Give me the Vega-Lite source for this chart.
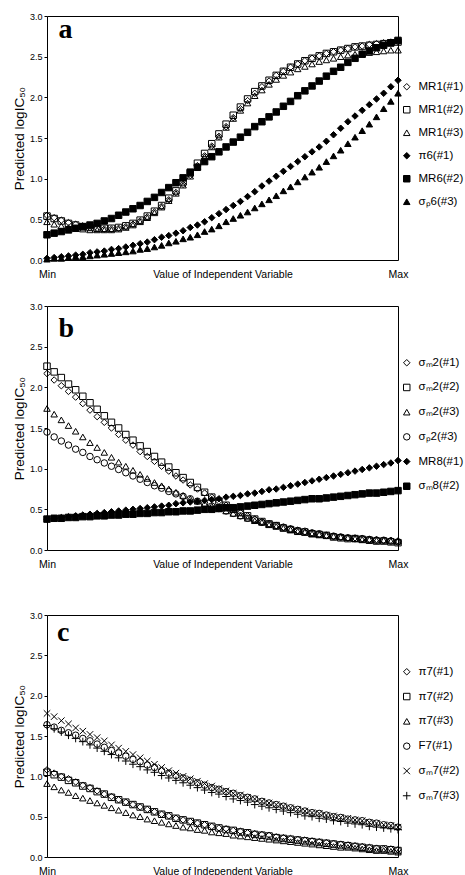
{
"$schema": "https://vega.github.io/schema/vega-lite/v6.json",
"padding": {"left": 11, "top": 11, "right": 0, "bottom": 0},
"config": {
"font": "Liberation Sans",
"view": {"stroke": "black", "strokeWidth": 1},
"axis": {"labelColor": "black", "titleColor": "black", "labelFont": "Liberation Sans", "titleFont": "Liberation Sans", "grid": false, "domain": false, "tickColor": "black"},
"legend": {"title": null, "orient": "none", "legendX": 354, "padding": 0, "labelFontSize": 11.5, "labelFont": "Liberation Sans", "labelColor": "black", "symbolStrokeColor": "black", "symbolStrokeWidth": 1, "symbolSize": 42, "labelOffset": 6, "labelLimit": 60}
},
"datasets": {
"a": [
{"s":"MR1(#1)","x":0,"y":0.55},{"s":"MR1(#1)","x":1,"y":0.52},{"s":"MR1(#1)","x":2,"y":0.49},{"s":"MR1(#1)","x":3,"y":0.46},{"s":"MR1(#1)","x":4,"y":0.44},{"s":"MR1(#1)","x":5,"y":0.42},{"s":"MR1(#1)","x":6,"y":0.40},{"s":"MR1(#1)","x":7,"y":0.39},{"s":"MR1(#1)","x":8,"y":0.38},{"s":"MR1(#1)","x":9,"y":0.38},
{"s":"MR1(#1)","x":10,"y":0.39},{"s":"MR1(#1)","x":11,"y":0.41},{"s":"MR1(#1)","x":12,"y":0.44},{"s":"MR1(#1)","x":13,"y":0.48},{"s":"MR1(#1)","x":14,"y":0.53},{"s":"MR1(#1)","x":15,"y":0.59},{"s":"MR1(#1)","x":16,"y":0.66},{"s":"MR1(#1)","x":17,"y":0.74},{"s":"MR1(#1)","x":18,"y":0.83},{"s":"MR1(#1)","x":19,"y":0.93},
{"s":"MR1(#1)","x":20,"y":1.04},{"s":"MR1(#1)","x":21,"y":1.16},{"s":"MR1(#1)","x":22,"y":1.28},{"s":"MR1(#1)","x":23,"y":1.40},{"s":"MR1(#1)","x":24,"y":1.52},{"s":"MR1(#1)","x":25,"y":1.64},{"s":"MR1(#1)","x":26,"y":1.75},{"s":"MR1(#1)","x":27,"y":1.86},{"s":"MR1(#1)","x":28,"y":1.96},{"s":"MR1(#1)","x":29,"y":2.05},
{"s":"MR1(#1)","x":30,"y":2.13},{"s":"MR1(#1)","x":31,"y":2.20},{"s":"MR1(#1)","x":32,"y":2.27},{"s":"MR1(#1)","x":33,"y":2.32},{"s":"MR1(#1)","x":34,"y":2.37},{"s":"MR1(#1)","x":35,"y":2.41},{"s":"MR1(#1)","x":36,"y":2.45},{"s":"MR1(#1)","x":37,"y":2.48},{"s":"MR1(#1)","x":38,"y":2.51},{"s":"MR1(#1)","x":39,"y":2.54},
{"s":"MR1(#1)","x":40,"y":2.56},{"s":"MR1(#1)","x":41,"y":2.58},{"s":"MR1(#1)","x":42,"y":2.60},{"s":"MR1(#1)","x":43,"y":2.62},{"s":"MR1(#1)","x":44,"y":2.63},{"s":"MR1(#1)","x":45,"y":2.65},{"s":"MR1(#1)","x":46,"y":2.66},{"s":"MR1(#1)","x":47,"y":2.67},{"s":"MR1(#1)","x":48,"y":2.68},{"s":"MR1(#1)","x":49,"y":2.68},
{"s":"MR1(#2)","x":0,"y":0.54},{"s":"MR1(#2)","x":1,"y":0.51},{"s":"MR1(#2)","x":2,"y":0.48},{"s":"MR1(#2)","x":3,"y":0.45},{"s":"MR1(#2)","x":4,"y":0.43},{"s":"MR1(#2)","x":5,"y":0.41},{"s":"MR1(#2)","x":6,"y":0.40},{"s":"MR1(#2)","x":7,"y":0.39},{"s":"MR1(#2)","x":8,"y":0.39},{"s":"MR1(#2)","x":9,"y":0.39},
{"s":"MR1(#2)","x":10,"y":0.40},{"s":"MR1(#2)","x":11,"y":0.42},{"s":"MR1(#2)","x":12,"y":0.45},{"s":"MR1(#2)","x":13,"y":0.49},{"s":"MR1(#2)","x":14,"y":0.54},{"s":"MR1(#2)","x":15,"y":0.60},{"s":"MR1(#2)","x":16,"y":0.67},{"s":"MR1(#2)","x":17,"y":0.76},{"s":"MR1(#2)","x":18,"y":0.85},{"s":"MR1(#2)","x":19,"y":0.96},
{"s":"MR1(#2)","x":20,"y":1.07},{"s":"MR1(#2)","x":21,"y":1.19},{"s":"MR1(#2)","x":22,"y":1.31},{"s":"MR1(#2)","x":23,"y":1.43},{"s":"MR1(#2)","x":24,"y":1.55},{"s":"MR1(#2)","x":25,"y":1.67},{"s":"MR1(#2)","x":26,"y":1.78},{"s":"MR1(#2)","x":27,"y":1.88},{"s":"MR1(#2)","x":28,"y":1.98},{"s":"MR1(#2)","x":29,"y":2.07},
{"s":"MR1(#2)","x":30,"y":2.14},{"s":"MR1(#2)","x":31,"y":2.21},{"s":"MR1(#2)","x":32,"y":2.27},{"s":"MR1(#2)","x":33,"y":2.32},{"s":"MR1(#2)","x":34,"y":2.37},{"s":"MR1(#2)","x":35,"y":2.41},{"s":"MR1(#2)","x":36,"y":2.45},{"s":"MR1(#2)","x":37,"y":2.48},{"s":"MR1(#2)","x":38,"y":2.51},{"s":"MR1(#2)","x":39,"y":2.54},
{"s":"MR1(#2)","x":40,"y":2.56},{"s":"MR1(#2)","x":41,"y":2.58},{"s":"MR1(#2)","x":42,"y":2.60},{"s":"MR1(#2)","x":43,"y":2.62},{"s":"MR1(#2)","x":44,"y":2.63},{"s":"MR1(#2)","x":45,"y":2.64},{"s":"MR1(#2)","x":46,"y":2.65},{"s":"MR1(#2)","x":47,"y":2.66},{"s":"MR1(#2)","x":48,"y":2.67},{"s":"MR1(#2)","x":49,"y":2.68},
{"s":"MR1(#3)","x":0,"y":0.47},{"s":"MR1(#3)","x":1,"y":0.44},{"s":"MR1(#3)","x":2,"y":0.42},{"s":"MR1(#3)","x":3,"y":0.40},{"s":"MR1(#3)","x":4,"y":0.39},{"s":"MR1(#3)","x":5,"y":0.38},{"s":"MR1(#3)","x":6,"y":0.37},{"s":"MR1(#3)","x":7,"y":0.37},{"s":"MR1(#3)","x":8,"y":0.37},{"s":"MR1(#3)","x":9,"y":0.37},
{"s":"MR1(#3)","x":10,"y":0.38},{"s":"MR1(#3)","x":11,"y":0.40},{"s":"MR1(#3)","x":12,"y":0.43},{"s":"MR1(#3)","x":13,"y":0.47},{"s":"MR1(#3)","x":14,"y":0.52},{"s":"MR1(#3)","x":15,"y":0.58},{"s":"MR1(#3)","x":16,"y":0.65},{"s":"MR1(#3)","x":17,"y":0.73},{"s":"MR1(#3)","x":18,"y":0.82},{"s":"MR1(#3)","x":19,"y":0.92},
{"s":"MR1(#3)","x":20,"y":1.03},{"s":"MR1(#3)","x":21,"y":1.15},{"s":"MR1(#3)","x":22,"y":1.27},{"s":"MR1(#3)","x":23,"y":1.39},{"s":"MR1(#3)","x":24,"y":1.51},{"s":"MR1(#3)","x":25,"y":1.63},{"s":"MR1(#3)","x":26,"y":1.74},{"s":"MR1(#3)","x":27,"y":1.84},{"s":"MR1(#3)","x":28,"y":1.93},{"s":"MR1(#3)","x":29,"y":2.02},
{"s":"MR1(#3)","x":30,"y":2.09},{"s":"MR1(#3)","x":31,"y":2.16},{"s":"MR1(#3)","x":32,"y":2.22},{"s":"MR1(#3)","x":33,"y":2.27},{"s":"MR1(#3)","x":34,"y":2.31},{"s":"MR1(#3)","x":35,"y":2.35},{"s":"MR1(#3)","x":36,"y":2.38},{"s":"MR1(#3)","x":37,"y":2.41},{"s":"MR1(#3)","x":38,"y":2.44},{"s":"MR1(#3)","x":39,"y":2.46},
{"s":"MR1(#3)","x":40,"y":2.48},{"s":"MR1(#3)","x":41,"y":2.50},{"s":"MR1(#3)","x":42,"y":2.52},{"s":"MR1(#3)","x":43,"y":2.53},{"s":"MR1(#3)","x":44,"y":2.54},{"s":"MR1(#3)","x":45,"y":2.55},{"s":"MR1(#3)","x":46,"y":2.56},{"s":"MR1(#3)","x":47,"y":2.57},{"s":"MR1(#3)","x":48,"y":2.58},{"s":"MR1(#3)","x":49,"y":2.58},
{"s":"π6(#1)","x":0,"y":0.02},{"s":"π6(#1)","x":1,"y":0.03},{"s":"π6(#1)","x":2,"y":0.04},{"s":"π6(#1)","x":3,"y":0.05},{"s":"π6(#1)","x":4,"y":0.06},{"s":"π6(#1)","x":5,"y":0.07},{"s":"π6(#1)","x":6,"y":0.09},{"s":"π6(#1)","x":7,"y":0.10},{"s":"π6(#1)","x":8,"y":0.11},{"s":"π6(#1)","x":9,"y":0.13},
{"s":"π6(#1)","x":10,"y":0.14},{"s":"π6(#1)","x":11,"y":0.16},{"s":"π6(#1)","x":12,"y":0.18},{"s":"π6(#1)","x":13,"y":0.20},{"s":"π6(#1)","x":14,"y":0.22},{"s":"π6(#1)","x":15,"y":0.25},{"s":"π6(#1)","x":16,"y":0.28},{"s":"π6(#1)","x":17,"y":0.30},{"s":"π6(#1)","x":18,"y":0.33},{"s":"π6(#1)","x":19,"y":0.36},
{"s":"π6(#1)","x":20,"y":0.40},{"s":"π6(#1)","x":21,"y":0.43},{"s":"π6(#1)","x":22,"y":0.47},{"s":"π6(#1)","x":23,"y":0.52},{"s":"π6(#1)","x":24,"y":0.57},{"s":"π6(#1)","x":25,"y":0.62},{"s":"π6(#1)","x":26,"y":0.67},{"s":"π6(#1)","x":27,"y":0.72},{"s":"π6(#1)","x":28,"y":0.78},{"s":"π6(#1)","x":29,"y":0.84},
{"s":"π6(#1)","x":30,"y":0.91},{"s":"π6(#1)","x":31,"y":0.97},{"s":"π6(#1)","x":32,"y":1.03},{"s":"π6(#1)","x":33,"y":1.09},{"s":"π6(#1)","x":34,"y":1.15},{"s":"π6(#1)","x":35,"y":1.21},{"s":"π6(#1)","x":36,"y":1.27},{"s":"π6(#1)","x":37,"y":1.33},{"s":"π6(#1)","x":38,"y":1.39},{"s":"π6(#1)","x":39,"y":1.46},
{"s":"π6(#1)","x":40,"y":1.54},{"s":"π6(#1)","x":41,"y":1.62},{"s":"π6(#1)","x":42,"y":1.70},{"s":"π6(#1)","x":43,"y":1.77},{"s":"π6(#1)","x":44,"y":1.84},{"s":"π6(#1)","x":45,"y":1.91},{"s":"π6(#1)","x":46,"y":1.98},{"s":"π6(#1)","x":47,"y":2.05},{"s":"π6(#1)","x":48,"y":2.13},{"s":"π6(#1)","x":49,"y":2.21},
{"s":"MR6(#2)","x":0,"y":0.31},{"s":"MR6(#2)","x":1,"y":0.33},{"s":"MR6(#2)","x":2,"y":0.35},{"s":"MR6(#2)","x":3,"y":0.37},{"s":"MR6(#2)","x":4,"y":0.39},{"s":"MR6(#2)","x":5,"y":0.41},{"s":"MR6(#2)","x":6,"y":0.43},{"s":"MR6(#2)","x":7,"y":0.45},{"s":"MR6(#2)","x":8,"y":0.48},{"s":"MR6(#2)","x":9,"y":0.51},
{"s":"MR6(#2)","x":10,"y":0.55},{"s":"MR6(#2)","x":11,"y":0.59},{"s":"MR6(#2)","x":12,"y":0.63},{"s":"MR6(#2)","x":13,"y":0.67},{"s":"MR6(#2)","x":14,"y":0.72},{"s":"MR6(#2)","x":15,"y":0.77},{"s":"MR6(#2)","x":16,"y":0.83},{"s":"MR6(#2)","x":17,"y":0.89},{"s":"MR6(#2)","x":18,"y":0.95},{"s":"MR6(#2)","x":19,"y":1.01},
{"s":"MR6(#2)","x":20,"y":1.08},{"s":"MR6(#2)","x":21,"y":1.14},{"s":"MR6(#2)","x":22,"y":1.21},{"s":"MR6(#2)","x":23,"y":1.27},{"s":"MR6(#2)","x":24,"y":1.33},{"s":"MR6(#2)","x":25,"y":1.39},{"s":"MR6(#2)","x":26,"y":1.45},{"s":"MR6(#2)","x":27,"y":1.51},{"s":"MR6(#2)","x":28,"y":1.57},{"s":"MR6(#2)","x":29,"y":1.64},
{"s":"MR6(#2)","x":30,"y":1.70},{"s":"MR6(#2)","x":31,"y":1.76},{"s":"MR6(#2)","x":32,"y":1.82},{"s":"MR6(#2)","x":33,"y":1.89},{"s":"MR6(#2)","x":34,"y":1.95},{"s":"MR6(#2)","x":35,"y":2.02},{"s":"MR6(#2)","x":36,"y":2.08},{"s":"MR6(#2)","x":37,"y":2.14},{"s":"MR6(#2)","x":38,"y":2.20},{"s":"MR6(#2)","x":39,"y":2.26},
{"s":"MR6(#2)","x":40,"y":2.32},{"s":"MR6(#2)","x":41,"y":2.37},{"s":"MR6(#2)","x":42,"y":2.43},{"s":"MR6(#2)","x":43,"y":2.48},{"s":"MR6(#2)","x":44,"y":2.53},{"s":"MR6(#2)","x":45,"y":2.57},{"s":"MR6(#2)","x":46,"y":2.61},{"s":"MR6(#2)","x":47,"y":2.64},{"s":"MR6(#2)","x":48,"y":2.67},{"s":"MR6(#2)","x":49,"y":2.70},
{"s":"σₚ6(#3)","x":0,"y":0.01},{"s":"σₚ6(#3)","x":1,"y":0.02},{"s":"σₚ6(#3)","x":2,"y":0.02},{"s":"σₚ6(#3)","x":3,"y":0.03},{"s":"σₚ6(#3)","x":4,"y":0.04},{"s":"σₚ6(#3)","x":5,"y":0.04},{"s":"σₚ6(#3)","x":6,"y":0.05},{"s":"σₚ6(#3)","x":7,"y":0.06},{"s":"σₚ6(#3)","x":8,"y":0.07},{"s":"σₚ6(#3)","x":9,"y":0.08},
{"s":"σₚ6(#3)","x":10,"y":0.09},{"s":"σₚ6(#3)","x":11,"y":0.10},{"s":"σₚ6(#3)","x":12,"y":0.11},{"s":"σₚ6(#3)","x":13,"y":0.13},{"s":"σₚ6(#3)","x":14,"y":0.14},{"s":"σₚ6(#3)","x":15,"y":0.16},{"s":"σₚ6(#3)","x":16,"y":0.18},{"s":"σₚ6(#3)","x":17,"y":0.21},{"s":"σₚ6(#3)","x":18,"y":0.23},{"s":"σₚ6(#3)","x":19,"y":0.26},
{"s":"σₚ6(#3)","x":20,"y":0.28},{"s":"σₚ6(#3)","x":21,"y":0.31},{"s":"σₚ6(#3)","x":22,"y":0.35},{"s":"σₚ6(#3)","x":23,"y":0.38},{"s":"σₚ6(#3)","x":24,"y":0.42},{"s":"σₚ6(#3)","x":25,"y":0.47},{"s":"σₚ6(#3)","x":26,"y":0.51},{"s":"σₚ6(#3)","x":27,"y":0.55},{"s":"σₚ6(#3)","x":28,"y":0.59},{"s":"σₚ6(#3)","x":29,"y":0.64},
{"s":"σₚ6(#3)","x":30,"y":0.69},{"s":"σₚ6(#3)","x":31,"y":0.74},{"s":"σₚ6(#3)","x":32,"y":0.79},{"s":"σₚ6(#3)","x":33,"y":0.85},{"s":"σₚ6(#3)","x":34,"y":0.90},{"s":"σₚ6(#3)","x":35,"y":0.96},{"s":"σₚ6(#3)","x":36,"y":1.02},{"s":"σₚ6(#3)","x":37,"y":1.08},{"s":"σₚ6(#3)","x":38,"y":1.14},{"s":"σₚ6(#3)","x":39,"y":1.21},
{"s":"σₚ6(#3)","x":40,"y":1.28},{"s":"σₚ6(#3)","x":41,"y":1.35},{"s":"σₚ6(#3)","x":42,"y":1.43},{"s":"σₚ6(#3)","x":43,"y":1.51},{"s":"σₚ6(#3)","x":44,"y":1.59},{"s":"σₚ6(#3)","x":45,"y":1.67},{"s":"σₚ6(#3)","x":46,"y":1.76},{"s":"σₚ6(#3)","x":47,"y":1.86},{"s":"σₚ6(#3)","x":48,"y":1.95},{"s":"σₚ6(#3)","x":49,"y":2.05}
],
"b": [
{"s":"σₘ2(#1)","x":0,"y":2.17},{"s":"σₘ2(#1)","x":1,"y":2.09},{"s":"σₘ2(#1)","x":2,"y":2.02},{"s":"σₘ2(#1)","x":3,"y":1.95},{"s":"σₘ2(#1)","x":4,"y":1.88},{"s":"σₘ2(#1)","x":5,"y":1.80},{"s":"σₘ2(#1)","x":6,"y":1.72},{"s":"σₘ2(#1)","x":7,"y":1.64},{"s":"σₘ2(#1)","x":8,"y":1.57},{"s":"σₘ2(#1)","x":9,"y":1.50},
{"s":"σₘ2(#1)","x":10,"y":1.42},{"s":"σₘ2(#1)","x":11,"y":1.35},{"s":"σₘ2(#1)","x":12,"y":1.29},{"s":"σₘ2(#1)","x":13,"y":1.21},{"s":"σₘ2(#1)","x":14,"y":1.15},{"s":"σₘ2(#1)","x":15,"y":1.09},{"s":"σₘ2(#1)","x":16,"y":1.03},{"s":"σₘ2(#1)","x":17,"y":0.97},{"s":"σₘ2(#1)","x":18,"y":0.91},{"s":"σₘ2(#1)","x":19,"y":0.86},
{"s":"σₘ2(#1)","x":20,"y":0.80},{"s":"σₘ2(#1)","x":21,"y":0.75},{"s":"σₘ2(#1)","x":22,"y":0.70},{"s":"σₘ2(#1)","x":23,"y":0.65},{"s":"σₘ2(#1)","x":24,"y":0.60},{"s":"σₘ2(#1)","x":25,"y":0.55},{"s":"σₘ2(#1)","x":26,"y":0.50},{"s":"σₘ2(#1)","x":27,"y":0.46},{"s":"σₘ2(#1)","x":28,"y":0.42},{"s":"σₘ2(#1)","x":29,"y":0.38},
{"s":"σₘ2(#1)","x":30,"y":0.35},{"s":"σₘ2(#1)","x":31,"y":0.32},{"s":"σₘ2(#1)","x":32,"y":0.30},{"s":"σₘ2(#1)","x":33,"y":0.28},{"s":"σₘ2(#1)","x":34,"y":0.26},{"s":"σₘ2(#1)","x":35,"y":0.24},{"s":"σₘ2(#1)","x":36,"y":0.22},{"s":"σₘ2(#1)","x":37,"y":0.21},{"s":"σₘ2(#1)","x":38,"y":0.19},{"s":"σₘ2(#1)","x":39,"y":0.18},
{"s":"σₘ2(#1)","x":40,"y":0.17},{"s":"σₘ2(#1)","x":41,"y":0.16},{"s":"σₘ2(#1)","x":42,"y":0.15},{"s":"σₘ2(#1)","x":43,"y":0.15},{"s":"σₘ2(#1)","x":44,"y":0.14},{"s":"σₘ2(#1)","x":45,"y":0.13},{"s":"σₘ2(#1)","x":46,"y":0.13},{"s":"σₘ2(#1)","x":47,"y":0.12},{"s":"σₘ2(#1)","x":48,"y":0.12},{"s":"σₘ2(#1)","x":49,"y":0.11},
{"s":"σₘ2(#2)","x":0,"y":2.26},{"s":"σₘ2(#2)","x":1,"y":2.19},{"s":"σₘ2(#2)","x":2,"y":2.12},{"s":"σₘ2(#2)","x":3,"y":2.04},{"s":"σₘ2(#2)","x":4,"y":1.97},{"s":"σₘ2(#2)","x":5,"y":1.89},{"s":"σₘ2(#2)","x":6,"y":1.81},{"s":"σₘ2(#2)","x":7,"y":1.73},{"s":"σₘ2(#2)","x":8,"y":1.65},{"s":"σₘ2(#2)","x":9,"y":1.57},
{"s":"σₘ2(#2)","x":10,"y":1.50},{"s":"σₘ2(#2)","x":11,"y":1.42},{"s":"σₘ2(#2)","x":12,"y":1.35},{"s":"σₘ2(#2)","x":13,"y":1.28},{"s":"σₘ2(#2)","x":14,"y":1.21},{"s":"σₘ2(#2)","x":15,"y":1.15},{"s":"σₘ2(#2)","x":16,"y":1.08},{"s":"σₘ2(#2)","x":17,"y":1.02},{"s":"σₘ2(#2)","x":18,"y":0.95},{"s":"σₘ2(#2)","x":19,"y":0.89},
{"s":"σₘ2(#2)","x":20,"y":0.83},{"s":"σₘ2(#2)","x":21,"y":0.77},{"s":"σₘ2(#2)","x":22,"y":0.71},{"s":"σₘ2(#2)","x":23,"y":0.65},{"s":"σₘ2(#2)","x":24,"y":0.60},{"s":"σₘ2(#2)","x":25,"y":0.55},{"s":"σₘ2(#2)","x":26,"y":0.50},{"s":"σₘ2(#2)","x":27,"y":0.46},{"s":"σₘ2(#2)","x":28,"y":0.42},{"s":"σₘ2(#2)","x":29,"y":0.38},
{"s":"σₘ2(#2)","x":30,"y":0.35},{"s":"σₘ2(#2)","x":31,"y":0.32},{"s":"σₘ2(#2)","x":32,"y":0.30},{"s":"σₘ2(#2)","x":33,"y":0.27},{"s":"σₘ2(#2)","x":34,"y":0.25},{"s":"σₘ2(#2)","x":35,"y":0.23},{"s":"σₘ2(#2)","x":36,"y":0.22},{"s":"σₘ2(#2)","x":37,"y":0.20},{"s":"σₘ2(#2)","x":38,"y":0.19},{"s":"σₘ2(#2)","x":39,"y":0.18},
{"s":"σₘ2(#2)","x":40,"y":0.16},{"s":"σₘ2(#2)","x":41,"y":0.15},{"s":"σₘ2(#2)","x":42,"y":0.14},{"s":"σₘ2(#2)","x":43,"y":0.14},{"s":"σₘ2(#2)","x":44,"y":0.13},{"s":"σₘ2(#2)","x":45,"y":0.12},{"s":"σₘ2(#2)","x":46,"y":0.11},{"s":"σₘ2(#2)","x":47,"y":0.11},{"s":"σₘ2(#2)","x":48,"y":0.10},{"s":"σₘ2(#2)","x":49,"y":0.09},
{"s":"σₘ2(#3)","x":0,"y":1.74},{"s":"σₘ2(#3)","x":1,"y":1.67},{"s":"σₘ2(#3)","x":2,"y":1.60},{"s":"σₘ2(#3)","x":3,"y":1.53},{"s":"σₘ2(#3)","x":4,"y":1.46},{"s":"σₘ2(#3)","x":5,"y":1.39},{"s":"σₘ2(#3)","x":6,"y":1.32},{"s":"σₘ2(#3)","x":7,"y":1.26},{"s":"σₘ2(#3)","x":8,"y":1.20},{"s":"σₘ2(#3)","x":9,"y":1.14},
{"s":"σₘ2(#3)","x":10,"y":1.08},{"s":"σₘ2(#3)","x":11,"y":1.03},{"s":"σₘ2(#3)","x":12,"y":0.98},{"s":"σₘ2(#3)","x":13,"y":0.93},{"s":"σₘ2(#3)","x":14,"y":0.88},{"s":"σₘ2(#3)","x":15,"y":0.83},{"s":"σₘ2(#3)","x":16,"y":0.79},{"s":"σₘ2(#3)","x":17,"y":0.75},{"s":"σₘ2(#3)","x":18,"y":0.71},{"s":"σₘ2(#3)","x":19,"y":0.67},
{"s":"σₘ2(#3)","x":20,"y":0.63},{"s":"σₘ2(#3)","x":21,"y":0.60},{"s":"σₘ2(#3)","x":22,"y":0.57},{"s":"σₘ2(#3)","x":23,"y":0.54},{"s":"σₘ2(#3)","x":24,"y":0.51},{"s":"σₘ2(#3)","x":25,"y":0.48},{"s":"σₘ2(#3)","x":26,"y":0.45},{"s":"σₘ2(#3)","x":27,"y":0.42},{"s":"σₘ2(#3)","x":28,"y":0.39},{"s":"σₘ2(#3)","x":29,"y":0.36},
{"s":"σₘ2(#3)","x":30,"y":0.34},{"s":"σₘ2(#3)","x":31,"y":0.31},{"s":"σₘ2(#3)","x":32,"y":0.29},{"s":"σₘ2(#3)","x":33,"y":0.27},{"s":"σₘ2(#3)","x":34,"y":0.25},{"s":"σₘ2(#3)","x":35,"y":0.23},{"s":"σₘ2(#3)","x":36,"y":0.22},{"s":"σₘ2(#3)","x":37,"y":0.20},{"s":"σₘ2(#3)","x":38,"y":0.19},{"s":"σₘ2(#3)","x":39,"y":0.18},
{"s":"σₘ2(#3)","x":40,"y":0.17},{"s":"σₘ2(#3)","x":41,"y":0.16},{"s":"σₘ2(#3)","x":42,"y":0.15},{"s":"σₘ2(#3)","x":43,"y":0.14},{"s":"σₘ2(#3)","x":44,"y":0.13},{"s":"σₘ2(#3)","x":45,"y":0.13},{"s":"σₘ2(#3)","x":46,"y":0.12},{"s":"σₘ2(#3)","x":47,"y":0.12},{"s":"σₘ2(#3)","x":48,"y":0.11},{"s":"σₘ2(#3)","x":49,"y":0.11},
{"s":"σₚ2(#3)","x":0,"y":1.45},{"s":"σₚ2(#3)","x":1,"y":1.39},{"s":"σₚ2(#3)","x":2,"y":1.34},{"s":"σₚ2(#3)","x":3,"y":1.29},{"s":"σₚ2(#3)","x":4,"y":1.24},{"s":"σₚ2(#3)","x":5,"y":1.20},{"s":"σₚ2(#3)","x":6,"y":1.15},{"s":"σₚ2(#3)","x":7,"y":1.11},{"s":"σₚ2(#3)","x":8,"y":1.07},{"s":"σₚ2(#3)","x":9,"y":1.03},
{"s":"σₚ2(#3)","x":10,"y":0.99},{"s":"σₚ2(#3)","x":11,"y":0.95},{"s":"σₚ2(#3)","x":12,"y":0.91},{"s":"σₚ2(#3)","x":13,"y":0.87},{"s":"σₚ2(#3)","x":14,"y":0.83},{"s":"σₚ2(#3)","x":15,"y":0.79},{"s":"σₚ2(#3)","x":16,"y":0.76},{"s":"σₚ2(#3)","x":17,"y":0.72},{"s":"σₚ2(#3)","x":18,"y":0.69},{"s":"σₚ2(#3)","x":19,"y":0.66},
{"s":"σₚ2(#3)","x":20,"y":0.63},{"s":"σₚ2(#3)","x":21,"y":0.60},{"s":"σₚ2(#3)","x":22,"y":0.57},{"s":"σₚ2(#3)","x":23,"y":0.54},{"s":"σₚ2(#3)","x":24,"y":0.51},{"s":"σₚ2(#3)","x":25,"y":0.48},{"s":"σₚ2(#3)","x":26,"y":0.45},{"s":"σₚ2(#3)","x":27,"y":0.42},{"s":"σₚ2(#3)","x":28,"y":0.39},{"s":"σₚ2(#3)","x":29,"y":0.37},
{"s":"σₚ2(#3)","x":30,"y":0.34},{"s":"σₚ2(#3)","x":31,"y":0.32},{"s":"σₚ2(#3)","x":32,"y":0.30},{"s":"σₚ2(#3)","x":33,"y":0.28},{"s":"σₚ2(#3)","x":34,"y":0.26},{"s":"σₚ2(#3)","x":35,"y":0.24},{"s":"σₚ2(#3)","x":36,"y":0.23},{"s":"σₚ2(#3)","x":37,"y":0.21},{"s":"σₚ2(#3)","x":38,"y":0.20},{"s":"σₚ2(#3)","x":39,"y":0.18},
{"s":"σₚ2(#3)","x":40,"y":0.17},{"s":"σₚ2(#3)","x":41,"y":0.16},{"s":"σₚ2(#3)","x":42,"y":0.15},{"s":"σₚ2(#3)","x":43,"y":0.14},{"s":"σₚ2(#3)","x":44,"y":0.14},{"s":"σₚ2(#3)","x":45,"y":0.13},{"s":"σₚ2(#3)","x":46,"y":0.12},{"s":"σₚ2(#3)","x":47,"y":0.12},{"s":"σₚ2(#3)","x":48,"y":0.11},{"s":"σₚ2(#3)","x":49,"y":0.10},
{"s":"MR8(#1)","x":0,"y":0.38},{"s":"MR8(#1)","x":1,"y":0.39},{"s":"MR8(#1)","x":2,"y":0.40},{"s":"MR8(#1)","x":3,"y":0.41},{"s":"MR8(#1)","x":4,"y":0.42},{"s":"MR8(#1)","x":5,"y":0.43},{"s":"MR8(#1)","x":6,"y":0.44},{"s":"MR8(#1)","x":7,"y":0.45},{"s":"MR8(#1)","x":8,"y":0.46},{"s":"MR8(#1)","x":9,"y":0.47},
{"s":"MR8(#1)","x":10,"y":0.48},{"s":"MR8(#1)","x":11,"y":0.49},{"s":"MR8(#1)","x":12,"y":0.50},{"s":"MR8(#1)","x":13,"y":0.51},{"s":"MR8(#1)","x":14,"y":0.52},{"s":"MR8(#1)","x":15,"y":0.53},{"s":"MR8(#1)","x":16,"y":0.54},{"s":"MR8(#1)","x":17,"y":0.55},{"s":"MR8(#1)","x":18,"y":0.57},{"s":"MR8(#1)","x":19,"y":0.58},
{"s":"MR8(#1)","x":20,"y":0.59},{"s":"MR8(#1)","x":21,"y":0.60},{"s":"MR8(#1)","x":22,"y":0.61},{"s":"MR8(#1)","x":23,"y":0.62},{"s":"MR8(#1)","x":24,"y":0.63},{"s":"MR8(#1)","x":25,"y":0.65},{"s":"MR8(#1)","x":26,"y":0.66},{"s":"MR8(#1)","x":27,"y":0.67},{"s":"MR8(#1)","x":28,"y":0.69},{"s":"MR8(#1)","x":29,"y":0.70},
{"s":"MR8(#1)","x":30,"y":0.72},{"s":"MR8(#1)","x":31,"y":0.74},{"s":"MR8(#1)","x":32,"y":0.75},{"s":"MR8(#1)","x":33,"y":0.77},{"s":"MR8(#1)","x":34,"y":0.79},{"s":"MR8(#1)","x":35,"y":0.81},{"s":"MR8(#1)","x":36,"y":0.83},{"s":"MR8(#1)","x":37,"y":0.85},{"s":"MR8(#1)","x":38,"y":0.87},{"s":"MR8(#1)","x":39,"y":0.89},
{"s":"MR8(#1)","x":40,"y":0.91},{"s":"MR8(#1)","x":41,"y":0.93},{"s":"MR8(#1)","x":42,"y":0.95},{"s":"MR8(#1)","x":43,"y":0.97},{"s":"MR8(#1)","x":44,"y":0.99},{"s":"MR8(#1)","x":45,"y":1.01},{"s":"MR8(#1)","x":46,"y":1.03},{"s":"MR8(#1)","x":47,"y":1.05},{"s":"MR8(#1)","x":48,"y":1.07},{"s":"MR8(#1)","x":49,"y":1.10},
{"s":"σₘ8(#2)","x":0,"y":0.38},{"s":"σₘ8(#2)","x":1,"y":0.39},{"s":"σₘ8(#2)","x":2,"y":0.39},{"s":"σₘ8(#2)","x":3,"y":0.40},{"s":"σₘ8(#2)","x":4,"y":0.40},{"s":"σₘ8(#2)","x":5,"y":0.41},{"s":"σₘ8(#2)","x":6,"y":0.41},{"s":"σₘ8(#2)","x":7,"y":0.42},{"s":"σₘ8(#2)","x":8,"y":0.42},{"s":"σₘ8(#2)","x":9,"y":0.43},
{"s":"σₘ8(#2)","x":10,"y":0.43},{"s":"σₘ8(#2)","x":11,"y":0.44},{"s":"σₘ8(#2)","x":12,"y":0.44},{"s":"σₘ8(#2)","x":13,"y":0.45},{"s":"σₘ8(#2)","x":14,"y":0.45},{"s":"σₘ8(#2)","x":15,"y":0.46},{"s":"σₘ8(#2)","x":16,"y":0.46},{"s":"σₘ8(#2)","x":17,"y":0.47},{"s":"σₘ8(#2)","x":18,"y":0.47},{"s":"σₘ8(#2)","x":19,"y":0.48},
{"s":"σₘ8(#2)","x":20,"y":0.48},{"s":"σₘ8(#2)","x":21,"y":0.49},{"s":"σₘ8(#2)","x":22,"y":0.50},{"s":"σₘ8(#2)","x":23,"y":0.50},{"s":"σₘ8(#2)","x":24,"y":0.51},{"s":"σₘ8(#2)","x":25,"y":0.52},{"s":"σₘ8(#2)","x":26,"y":0.52},{"s":"σₘ8(#2)","x":27,"y":0.53},{"s":"σₘ8(#2)","x":28,"y":0.54},{"s":"σₘ8(#2)","x":29,"y":0.55},
{"s":"σₘ8(#2)","x":30,"y":0.56},{"s":"σₘ8(#2)","x":31,"y":0.57},{"s":"σₘ8(#2)","x":32,"y":0.58},{"s":"σₘ8(#2)","x":33,"y":0.59},{"s":"σₘ8(#2)","x":34,"y":0.60},{"s":"σₘ8(#2)","x":35,"y":0.61},{"s":"σₘ8(#2)","x":36,"y":0.62},{"s":"σₘ8(#2)","x":37,"y":0.63},{"s":"σₘ8(#2)","x":38,"y":0.63},{"s":"σₘ8(#2)","x":39,"y":0.64},
{"s":"σₘ8(#2)","x":40,"y":0.65},{"s":"σₘ8(#2)","x":41,"y":0.66},{"s":"σₘ8(#2)","x":42,"y":0.67},{"s":"σₘ8(#2)","x":43,"y":0.68},{"s":"σₘ8(#2)","x":44,"y":0.69},{"s":"σₘ8(#2)","x":45,"y":0.70},{"s":"σₘ8(#2)","x":46,"y":0.70},{"s":"σₘ8(#2)","x":47,"y":0.71},{"s":"σₘ8(#2)","x":48,"y":0.72},{"s":"σₘ8(#2)","x":49,"y":0.73}
],
"c": [
{"s":"π7(#1)","x":0,"y":1.08},{"s":"π7(#1)","x":1,"y":1.04},{"s":"π7(#1)","x":2,"y":1.00},{"s":"π7(#1)","x":3,"y":0.97},{"s":"π7(#1)","x":4,"y":0.93},{"s":"π7(#1)","x":5,"y":0.89},{"s":"π7(#1)","x":6,"y":0.86},{"s":"π7(#1)","x":7,"y":0.82},{"s":"π7(#1)","x":8,"y":0.78},{"s":"π7(#1)","x":9,"y":0.75},
{"s":"π7(#1)","x":10,"y":0.71},{"s":"π7(#1)","x":11,"y":0.68},{"s":"π7(#1)","x":12,"y":0.65},{"s":"π7(#1)","x":13,"y":0.62},{"s":"π7(#1)","x":14,"y":0.59},{"s":"π7(#1)","x":15,"y":0.56},{"s":"π7(#1)","x":16,"y":0.53},{"s":"π7(#1)","x":17,"y":0.51},{"s":"π7(#1)","x":18,"y":0.48},{"s":"π7(#1)","x":19,"y":0.46},
{"s":"π7(#1)","x":20,"y":0.44},{"s":"π7(#1)","x":21,"y":0.42},{"s":"π7(#1)","x":22,"y":0.40},{"s":"π7(#1)","x":23,"y":0.38},{"s":"π7(#1)","x":24,"y":0.36},{"s":"π7(#1)","x":25,"y":0.35},{"s":"π7(#1)","x":26,"y":0.33},{"s":"π7(#1)","x":27,"y":0.32},{"s":"π7(#1)","x":28,"y":0.30},{"s":"π7(#1)","x":29,"y":0.29},
{"s":"π7(#1)","x":30,"y":0.28},{"s":"π7(#1)","x":31,"y":0.27},{"s":"π7(#1)","x":32,"y":0.25},{"s":"π7(#1)","x":33,"y":0.24},{"s":"π7(#1)","x":34,"y":0.23},{"s":"π7(#1)","x":35,"y":0.22},{"s":"π7(#1)","x":36,"y":0.21},{"s":"π7(#1)","x":37,"y":0.20},{"s":"π7(#1)","x":38,"y":0.19},{"s":"π7(#1)","x":39,"y":0.18},
{"s":"π7(#1)","x":40,"y":0.17},{"s":"π7(#1)","x":41,"y":0.16},{"s":"π7(#1)","x":42,"y":0.15},{"s":"π7(#1)","x":43,"y":0.14},{"s":"π7(#1)","x":44,"y":0.13},{"s":"π7(#1)","x":45,"y":0.12},{"s":"π7(#1)","x":46,"y":0.11},{"s":"π7(#1)","x":47,"y":0.10},{"s":"π7(#1)","x":48,"y":0.10},{"s":"π7(#1)","x":49,"y":0.09},
{"s":"π7(#2)","x":0,"y":1.05},{"s":"π7(#2)","x":1,"y":1.02},{"s":"π7(#2)","x":2,"y":0.99},{"s":"π7(#2)","x":3,"y":0.95},{"s":"π7(#2)","x":4,"y":0.92},{"s":"π7(#2)","x":5,"y":0.88},{"s":"π7(#2)","x":6,"y":0.85},{"s":"π7(#2)","x":7,"y":0.81},{"s":"π7(#2)","x":8,"y":0.78},{"s":"π7(#2)","x":9,"y":0.74},
{"s":"π7(#2)","x":10,"y":0.71},{"s":"π7(#2)","x":11,"y":0.68},{"s":"π7(#2)","x":12,"y":0.65},{"s":"π7(#2)","x":13,"y":0.62},{"s":"π7(#2)","x":14,"y":0.59},{"s":"π7(#2)","x":15,"y":0.56},{"s":"π7(#2)","x":16,"y":0.53},{"s":"π7(#2)","x":17,"y":0.51},{"s":"π7(#2)","x":18,"y":0.48},{"s":"π7(#2)","x":19,"y":0.46},
{"s":"π7(#2)","x":20,"y":0.44},{"s":"π7(#2)","x":21,"y":0.42},{"s":"π7(#2)","x":22,"y":0.40},{"s":"π7(#2)","x":23,"y":0.38},{"s":"π7(#2)","x":24,"y":0.36},{"s":"π7(#2)","x":25,"y":0.34},{"s":"π7(#2)","x":26,"y":0.33},{"s":"π7(#2)","x":27,"y":0.31},{"s":"π7(#2)","x":28,"y":0.30},{"s":"π7(#2)","x":29,"y":0.28},
{"s":"π7(#2)","x":30,"y":0.27},{"s":"π7(#2)","x":31,"y":0.26},{"s":"π7(#2)","x":32,"y":0.24},{"s":"π7(#2)","x":33,"y":0.23},{"s":"π7(#2)","x":34,"y":0.22},{"s":"π7(#2)","x":35,"y":0.21},{"s":"π7(#2)","x":36,"y":0.20},{"s":"π7(#2)","x":37,"y":0.19},{"s":"π7(#2)","x":38,"y":0.18},{"s":"π7(#2)","x":39,"y":0.17},
{"s":"π7(#2)","x":40,"y":0.16},{"s":"π7(#2)","x":41,"y":0.15},{"s":"π7(#2)","x":42,"y":0.14},{"s":"π7(#2)","x":43,"y":0.13},{"s":"π7(#2)","x":44,"y":0.12},{"s":"π7(#2)","x":45,"y":0.11},{"s":"π7(#2)","x":46,"y":0.10},{"s":"π7(#2)","x":47,"y":0.10},{"s":"π7(#2)","x":48,"y":0.09},{"s":"π7(#2)","x":49,"y":0.08},
{"s":"π7(#3)","x":0,"y":0.91},{"s":"π7(#3)","x":1,"y":0.87},{"s":"π7(#3)","x":2,"y":0.83},{"s":"π7(#3)","x":3,"y":0.80},{"s":"π7(#3)","x":4,"y":0.76},{"s":"π7(#3)","x":5,"y":0.73},{"s":"π7(#3)","x":6,"y":0.70},{"s":"π7(#3)","x":7,"y":0.67},{"s":"π7(#3)","x":8,"y":0.64},{"s":"π7(#3)","x":9,"y":0.61},
{"s":"π7(#3)","x":10,"y":0.58},{"s":"π7(#3)","x":11,"y":0.55},{"s":"π7(#3)","x":12,"y":0.52},{"s":"π7(#3)","x":13,"y":0.50},{"s":"π7(#3)","x":14,"y":0.47},{"s":"π7(#3)","x":15,"y":0.45},{"s":"π7(#3)","x":16,"y":0.43},{"s":"π7(#3)","x":17,"y":0.41},{"s":"π7(#3)","x":18,"y":0.39},{"s":"π7(#3)","x":19,"y":0.37},
{"s":"π7(#3)","x":20,"y":0.36},{"s":"π7(#3)","x":21,"y":0.34},{"s":"π7(#3)","x":22,"y":0.33},{"s":"π7(#3)","x":23,"y":0.31},{"s":"π7(#3)","x":24,"y":0.30},{"s":"π7(#3)","x":25,"y":0.29},{"s":"π7(#3)","x":26,"y":0.27},{"s":"π7(#3)","x":27,"y":0.26},{"s":"π7(#3)","x":28,"y":0.25},{"s":"π7(#3)","x":29,"y":0.24},
{"s":"π7(#3)","x":30,"y":0.23},{"s":"π7(#3)","x":31,"y":0.22},{"s":"π7(#3)","x":32,"y":0.21},{"s":"π7(#3)","x":33,"y":0.20},{"s":"π7(#3)","x":34,"y":0.19},{"s":"π7(#3)","x":35,"y":0.18},{"s":"π7(#3)","x":36,"y":0.17},{"s":"π7(#3)","x":37,"y":0.16},{"s":"π7(#3)","x":38,"y":0.15},{"s":"π7(#3)","x":39,"y":0.14},
{"s":"π7(#3)","x":40,"y":0.13},{"s":"π7(#3)","x":41,"y":0.12},{"s":"π7(#3)","x":42,"y":0.12},{"s":"π7(#3)","x":43,"y":0.11},{"s":"π7(#3)","x":44,"y":0.10},{"s":"π7(#3)","x":45,"y":0.09},{"s":"π7(#3)","x":46,"y":0.08},{"s":"π7(#3)","x":47,"y":0.08},{"s":"π7(#3)","x":48,"y":0.07},{"s":"π7(#3)","x":49,"y":0.06},
{"s":"F7(#1)","x":0,"y":1.64},{"s":"F7(#1)","x":1,"y":1.61},{"s":"F7(#1)","x":2,"y":1.57},{"s":"F7(#1)","x":3,"y":1.54},{"s":"F7(#1)","x":4,"y":1.51},{"s":"F7(#1)","x":5,"y":1.47},{"s":"F7(#1)","x":6,"y":1.44},{"s":"F7(#1)","x":7,"y":1.40},{"s":"F7(#1)","x":8,"y":1.36},{"s":"F7(#1)","x":9,"y":1.32},
{"s":"F7(#1)","x":10,"y":1.29},{"s":"F7(#1)","x":11,"y":1.25},{"s":"F7(#1)","x":12,"y":1.21},{"s":"F7(#1)","x":13,"y":1.18},{"s":"F7(#1)","x":14,"y":1.14},{"s":"F7(#1)","x":15,"y":1.11},{"s":"F7(#1)","x":16,"y":1.07},{"s":"F7(#1)","x":17,"y":1.04},{"s":"F7(#1)","x":18,"y":1.01},{"s":"F7(#1)","x":19,"y":0.98},
{"s":"F7(#1)","x":20,"y":0.95},{"s":"F7(#1)","x":21,"y":0.92},{"s":"F7(#1)","x":22,"y":0.89},{"s":"F7(#1)","x":23,"y":0.86},{"s":"F7(#1)","x":24,"y":0.84},{"s":"F7(#1)","x":25,"y":0.81},{"s":"F7(#1)","x":26,"y":0.79},{"s":"F7(#1)","x":27,"y":0.76},{"s":"F7(#1)","x":28,"y":0.74},{"s":"F7(#1)","x":29,"y":0.72},
{"s":"F7(#1)","x":30,"y":0.69},{"s":"F7(#1)","x":31,"y":0.67},{"s":"F7(#1)","x":32,"y":0.65},{"s":"F7(#1)","x":33,"y":0.63},{"s":"F7(#1)","x":34,"y":0.61},{"s":"F7(#1)","x":35,"y":0.59},{"s":"F7(#1)","x":36,"y":0.57},{"s":"F7(#1)","x":37,"y":0.55},{"s":"F7(#1)","x":38,"y":0.54},{"s":"F7(#1)","x":39,"y":0.52},
{"s":"F7(#1)","x":40,"y":0.50},{"s":"F7(#1)","x":41,"y":0.49},{"s":"F7(#1)","x":42,"y":0.47},{"s":"F7(#1)","x":43,"y":0.46},{"s":"F7(#1)","x":44,"y":0.45},{"s":"F7(#1)","x":45,"y":0.43},{"s":"F7(#1)","x":46,"y":0.42},{"s":"F7(#1)","x":47,"y":0.40},{"s":"F7(#1)","x":48,"y":0.39},{"s":"F7(#1)","x":49,"y":0.37},
{"s":"σₘ7(#2)","x":0,"y":1.78},{"s":"σₘ7(#2)","x":1,"y":1.74},{"s":"σₘ7(#2)","x":2,"y":1.69},{"s":"σₘ7(#2)","x":3,"y":1.65},{"s":"σₘ7(#2)","x":4,"y":1.60},{"s":"σₘ7(#2)","x":5,"y":1.56},{"s":"σₘ7(#2)","x":6,"y":1.52},{"s":"σₘ7(#2)","x":7,"y":1.48},{"s":"σₘ7(#2)","x":8,"y":1.44},{"s":"σₘ7(#2)","x":9,"y":1.39},
{"s":"σₘ7(#2)","x":10,"y":1.35},{"s":"σₘ7(#2)","x":11,"y":1.31},{"s":"σₘ7(#2)","x":12,"y":1.27},{"s":"σₘ7(#2)","x":13,"y":1.23},{"s":"σₘ7(#2)","x":14,"y":1.19},{"s":"σₘ7(#2)","x":15,"y":1.15},{"s":"σₘ7(#2)","x":16,"y":1.11},{"s":"σₘ7(#2)","x":17,"y":1.07},{"s":"σₘ7(#2)","x":18,"y":1.04},{"s":"σₘ7(#2)","x":19,"y":1.00},
{"s":"σₘ7(#2)","x":20,"y":0.97},{"s":"σₘ7(#2)","x":21,"y":0.94},{"s":"σₘ7(#2)","x":22,"y":0.91},{"s":"σₘ7(#2)","x":23,"y":0.88},{"s":"σₘ7(#2)","x":24,"y":0.85},{"s":"σₘ7(#2)","x":25,"y":0.82},{"s":"σₘ7(#2)","x":26,"y":0.79},{"s":"σₘ7(#2)","x":27,"y":0.77},{"s":"σₘ7(#2)","x":28,"y":0.74},{"s":"σₘ7(#2)","x":29,"y":0.72},
{"s":"σₘ7(#2)","x":30,"y":0.69},{"s":"σₘ7(#2)","x":31,"y":0.67},{"s":"σₘ7(#2)","x":32,"y":0.65},{"s":"σₘ7(#2)","x":33,"y":0.63},{"s":"σₘ7(#2)","x":34,"y":0.61},{"s":"σₘ7(#2)","x":35,"y":0.59},{"s":"σₘ7(#2)","x":36,"y":0.57},{"s":"σₘ7(#2)","x":37,"y":0.55},{"s":"σₘ7(#2)","x":38,"y":0.54},{"s":"σₘ7(#2)","x":39,"y":0.52},
{"s":"σₘ7(#2)","x":40,"y":0.51},{"s":"σₘ7(#2)","x":41,"y":0.49},{"s":"σₘ7(#2)","x":42,"y":0.48},{"s":"σₘ7(#2)","x":43,"y":0.46},{"s":"σₘ7(#2)","x":44,"y":0.45},{"s":"σₘ7(#2)","x":45,"y":0.43},{"s":"σₘ7(#2)","x":46,"y":0.42},{"s":"σₘ7(#2)","x":47,"y":0.40},{"s":"σₘ7(#2)","x":48,"y":0.39},{"s":"σₘ7(#2)","x":49,"y":0.37},
{"s":"σₘ7(#3)","x":0,"y":1.63},{"s":"σₘ7(#3)","x":1,"y":1.59},{"s":"σₘ7(#3)","x":2,"y":1.55},{"s":"σₘ7(#3)","x":3,"y":1.51},{"s":"σₘ7(#3)","x":4,"y":1.47},{"s":"σₘ7(#3)","x":5,"y":1.43},{"s":"σₘ7(#3)","x":6,"y":1.39},{"s":"σₘ7(#3)","x":7,"y":1.35},{"s":"σₘ7(#3)","x":8,"y":1.31},{"s":"σₘ7(#3)","x":9,"y":1.27},
{"s":"σₘ7(#3)","x":10,"y":1.23},{"s":"σₘ7(#3)","x":11,"y":1.19},{"s":"σₘ7(#3)","x":12,"y":1.15},{"s":"σₘ7(#3)","x":13,"y":1.12},{"s":"σₘ7(#3)","x":14,"y":1.08},{"s":"σₘ7(#3)","x":15,"y":1.05},{"s":"σₘ7(#3)","x":16,"y":1.01},{"s":"σₘ7(#3)","x":17,"y":0.98},{"s":"σₘ7(#3)","x":18,"y":0.95},{"s":"σₘ7(#3)","x":19,"y":0.92},
{"s":"σₘ7(#3)","x":20,"y":0.89},{"s":"σₘ7(#3)","x":21,"y":0.86},{"s":"σₘ7(#3)","x":22,"y":0.83},{"s":"σₘ7(#3)","x":23,"y":0.80},{"s":"σₘ7(#3)","x":24,"y":0.78},{"s":"σₘ7(#3)","x":25,"y":0.75},{"s":"σₘ7(#3)","x":26,"y":0.72},{"s":"σₘ7(#3)","x":27,"y":0.70},{"s":"σₘ7(#3)","x":28,"y":0.68},{"s":"σₘ7(#3)","x":29,"y":0.65},
{"s":"σₘ7(#3)","x":30,"y":0.63},{"s":"σₘ7(#3)","x":31,"y":0.61},{"s":"σₘ7(#3)","x":32,"y":0.59},{"s":"σₘ7(#3)","x":33,"y":0.57},{"s":"σₘ7(#3)","x":34,"y":0.55},{"s":"σₘ7(#3)","x":35,"y":0.53},{"s":"σₘ7(#3)","x":36,"y":0.51},{"s":"σₘ7(#3)","x":37,"y":0.50},{"s":"σₘ7(#3)","x":38,"y":0.48},{"s":"σₘ7(#3)","x":39,"y":0.47},
{"s":"σₘ7(#3)","x":40,"y":0.45},{"s":"σₘ7(#3)","x":41,"y":0.44},{"s":"σₘ7(#3)","x":42,"y":0.42},{"s":"σₘ7(#3)","x":43,"y":0.41},{"s":"σₘ7(#3)","x":44,"y":0.40},{"s":"σₘ7(#3)","x":45,"y":0.38},{"s":"σₘ7(#3)","x":46,"y":0.37},{"s":"σₘ7(#3)","x":47,"y":0.36},{"s":"σₘ7(#3)","x":48,"y":0.35},{"s":"σₘ7(#3)","x":49,"y":0.34}
]
},
"vconcat": [
{"vconcat": [
{"width": 351, "height": 244,
"layer": [
{"data": {"name": "a"},
"mark": {"type": "point", "size": 42, "strokeWidth": 1, "opacity": 1},
"encoding": {
"x": {"field": "x", "type": "quantitative", "scale": {"domain": [0, 49], "nice": false, "zero": false},
"axis": {"values": [0, 49], "labelExpr": "datum.value == 0 ? 'Min' : 'Max'", "ticks": false, "tickSize": 0, "labelPadding": 9, "labelFontSize": 10.5, "labelFlush": false, "labelAlign": "center", "labelOverlap": false, "title": "Value of Independent Variable", "titleFontSize": 10.5, "titleFontWeight": "normal", "titleY": 9, "titleBaseline": "top"}},
"y": {"field": "y", "type": "quantitative", "scale": {"domain": [0, 3], "nice": false},
"axis": {"values": [0, 0.5, 1, 1.5, 2, 2.5, 3], "format": ".1f", "tickSize": 3, "labelPadding": 2, "labelFontSize": 9, "title": "Predicted logIC₅₀", "titleFontSize": 13.5, "titleFontWeight": "normal", "titlePadding": 3}},
"shape": {"field": "s", "type": "nominal",
"scale": {"domain": ["MR1(#1)", "MR1(#2)", "MR1(#3)", "π6(#1)", "MR6(#2)", "σₚ6(#3)"], "range": ["diamond", "square", "triangle-up", "diamond", "square", "triangle-up"]},
"legend": {"legendY": 65, "rowPadding": 10}},
"fill": {"field": "s", "type": "nominal",
"scale": {"domain": ["MR1(#1)", "MR1(#2)", "MR1(#3)", "π6(#1)", "MR6(#2)", "σₚ6(#3)"], "range": ["transparent", "transparent", "transparent", "black", "black", "black"]},
"legend": {"legendY": 65, "rowPadding": 10}},
"stroke": {"field": "s", "type": "nominal",
"scale": {"domain": ["MR1(#1)", "MR1(#2)", "MR1(#3)", "π6(#1)", "MR6(#2)", "σₚ6(#3)"], "range": ["black", "black", "black", "black", "black", "black"]},
"legend": {"legendY": 65, "rowPadding": 10}}
}},
{"data": {"values": [{"t": "a"}]},
"mark": {"type": "text", "font": "Liberation Serif", "fontWeight": "bold", "fontSize": 28, "align": "left", "baseline": "alphabetic", "color": "black"},
"encoding": {"x": {"datum": 1.6, "type": "quantitative"}, "y": {"datum": 2.73, "type": "quantitative"}, "text": {"field": "t"}}}
]},
{"width": 351, "height": 244,
"layer": [
{"data": {"name": "b"},
"mark": {"type": "point", "size": 42, "strokeWidth": 1, "opacity": 1},
"encoding": {
"x": {"field": "x", "type": "quantitative", "scale": {"domain": [0, 49], "nice": false, "zero": false},
"axis": {"values": [0, 49], "labelExpr": "datum.value == 0 ? 'Min' : 'Max'", "ticks": false, "tickSize": 0, "labelPadding": 9, "labelFontSize": 10.5, "labelFlush": false, "labelAlign": "center", "labelOverlap": false, "title": "Value of Independent Variable", "titleFontSize": 10.5, "titleFontWeight": "normal", "titleY": 9, "titleBaseline": "top"}},
"y": {"field": "y", "type": "quantitative", "scale": {"domain": [0, 3], "nice": false},
"axis": {"values": [0, 0.5, 1, 1.5, 2, 2.5, 3], "format": ".1f", "tickSize": 3, "labelPadding": 2, "labelFontSize": 9, "title": "Predicted logIC₅₀", "titleFontSize": 13.5, "titleFontWeight": "normal", "titlePadding": 3}},
"shape": {"field": "s", "type": "nominal",
"scale": {"domain": ["σₘ2(#1)", "σₘ2(#2)", "σₘ2(#3)", "σₚ2(#3)", "MR8(#1)", "σₘ8(#2)"], "range": ["diamond", "square", "triangle-up", "circle", "diamond", "square"]},
"legend": {"legendY": 51, "rowPadding": 11.7}},
"fill": {"field": "s", "type": "nominal",
"scale": {"domain": ["σₘ2(#1)", "σₘ2(#2)", "σₘ2(#3)", "σₚ2(#3)", "MR8(#1)", "σₘ8(#2)"], "range": ["transparent", "transparent", "transparent", "transparent", "black", "black"]},
"legend": {"legendY": 51, "rowPadding": 11.7}},
"stroke": {"field": "s", "type": "nominal",
"scale": {"domain": ["σₘ2(#1)", "σₘ2(#2)", "σₘ2(#3)", "σₚ2(#3)", "MR8(#1)", "σₘ8(#2)"], "range": ["black", "black", "black", "black", "black", "black"]},
"legend": {"legendY": 51, "rowPadding": 11.7}}
}},
{"data": {"values": [{"t": "b"}]},
"mark": {"type": "text", "font": "Liberation Serif", "fontWeight": "bold", "fontSize": 28, "align": "left", "baseline": "alphabetic", "color": "black"},
"encoding": {"x": {"datum": 1.6, "type": "quantitative"}, "y": {"datum": 2.62, "type": "quantitative"}, "text": {"field": "t"}}}
]}
], "spacing": 21, "resolve": {"scale": {"shape": "independent", "fill": "independent", "stroke": "independent", "x": "independent", "y": "independent"}, "legend": {"shape": "independent", "fill": "independent", "stroke": "independent"}}},
{"width": 351, "height": 242,
"layer": [
{"data": {"name": "c"},
"mark": {"type": "point", "size": 42, "strokeWidth": 1, "opacity": 1},
"encoding": {
"x": {"field": "x", "type": "quantitative", "scale": {"domain": [0, 49], "nice": false, "zero": false},
"axis": {"values": [0, 49], "labelExpr": "datum.value == 0 ? 'Min' : 'Max'", "ticks": false, "tickSize": 0, "labelPadding": 9, "labelFontSize": 10.5, "labelFlush": false, "labelAlign": "center", "labelOverlap": false, "title": "Value of Independent Variable", "titleFontSize": 10.5, "titleFontWeight": "normal", "titleY": 9, "titleBaseline": "top"}},
"y": {"field": "y", "type": "quantitative", "scale": {"domain": [0, 3], "nice": false},
"axis": {"values": [0, 0.5, 1, 1.5, 2, 2.5, 3], "format": ".1f", "tickSize": 3, "labelPadding": 2, "labelFontSize": 9, "title": "Predicted logIC₅₀", "titleFontSize": 13.5, "titleFontWeight": "normal", "titlePadding": 3}},
"shape": {"field": "s", "type": "nominal",
"scale": {"domain": ["π7(#1)", "π7(#2)", "π7(#3)", "F7(#1)", "σₘ7(#2)", "σₘ7(#3)"], "range": ["diamond", "square", "triangle-up", "circle", "M-1,-1L1,1M-1,1L1,-1", "M-1.2,0L1.2,0M0,-1.2L0,1.2"]},
"legend": {"legendY": 51, "rowPadding": 11.8}},
"fill": {"field": "s", "type": "nominal",
"scale": {"domain": ["π7(#1)", "π7(#2)", "π7(#3)", "F7(#1)", "σₘ7(#2)", "σₘ7(#3)"], "range": ["transparent", "transparent", "transparent", "transparent", "transparent", "transparent"]},
"legend": {"legendY": 51, "rowPadding": 11.8}},
"stroke": {"field": "s", "type": "nominal",
"scale": {"domain": ["π7(#1)", "π7(#2)", "π7(#3)", "F7(#1)", "σₘ7(#2)", "σₘ7(#3)"], "range": ["black", "black", "black", "black", "black", "black"]},
"legend": {"legendY": 51, "rowPadding": 11.8}}
}},
{"data": {"values": [{"t": "c"}]},
"mark": {"type": "text", "font": "Liberation Serif", "fontWeight": "bold", "fontSize": 28, "align": "left", "baseline": "alphabetic", "color": "black"},
"encoding": {"x": {"datum": 1.4, "type": "quantitative"}, "y": {"datum": 2.68, "type": "quantitative"}, "text": {"field": "t"}}}
]}
],
"spacing": 40,
"resolve": {"scale": {"shape": "independent", "fill": "independent", "stroke": "independent", "x": "independent", "y": "independent"}, "legend": {"shape": "independent", "fill": "independent", "stroke": "independent"}}
}
